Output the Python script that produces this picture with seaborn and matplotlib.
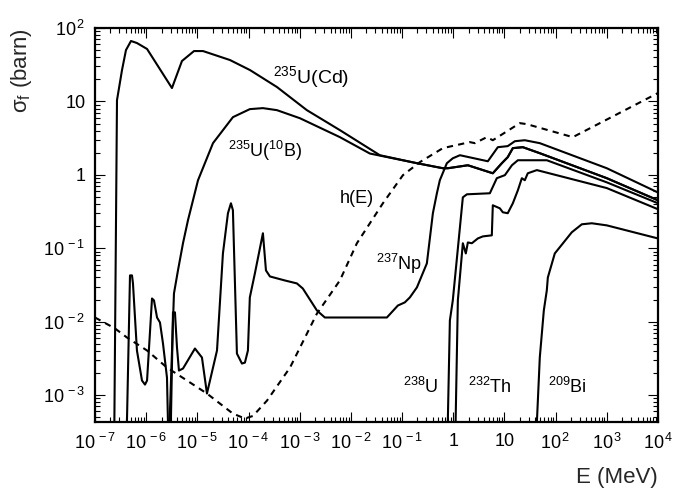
import matplotlib
matplotlib.use("Agg")
import matplotlib.pyplot as plt
import matplotlib.ticker as mticker
import pandas as pd
import seaborn as sns

# Energies in MeV, fission cross sections in barn.
# A value of 1e-4 means the curve runs out below the bottom of the frame.

# 235U behind a Cd filter (low energy part)
E_cd = [2.35e-7, 2.69e-7, 3.37e-7, 4.03e-7, 5.05e-7, 6.6e-7, 1.04e-6, 3.19e-6,
        5.0e-6, 8.6e-6, 1.29e-5, 4.34e-5, 1.07e-4, 3.59e-4, 1.38e-3, 6.1e-3,
        3.68e-2, 0.195]
sig_cd = [1e-4, 10.4, 26.7, 50, 66.5, 62.4, 51.8, 15.2,
          35.5, 48.5, 48.5, 36.6, 26.7, 15.7, 7.6, 4.06,
          1.85, 1.44]

# 235U behind a 10B filter (low energy part)
E_b = [2.67e-6, 3.49e-6, 4.18e-6, 5.24e-6, 6.55e-6, 1.03e-5, 2.02e-5, 4.95e-5,
       1.06e-4, 1.91e-4, 3.59e-4, 1.01e-3, 6.1e-3, 2.35e-2, 0.195]
sig_b = [1e-4, 2.42e-2, 4.99e-2, 0.117, 0.24, 0.844, 2.70, 6.1,
         7.85, 8.1, 7.6, 5.9, 3.26, 1.95, 1.44]

# above ~0.2 MeV both 235U curves are the same
E_u235 = [0.627, 0.785, 1.93, 5.93, 8.9, 11.6, 14.6, 22.9, 49.1, 1000, 1e4]
sig_u235 = [1.23, 1.23, 1.35, 1.05, 1.44, 1.74, 2.31, 2.38, 1.97, 0.90, 0.45]

E_np = [4.03e-7, 4.83e-7, 5.28e-7, 5.52e-7, 6.6e-7, 8.28e-7, 9.48e-7, 1.04e-6,
        1.30e-6, 1.42e-6, 1.63e-6, 1.86e-6, 2.13e-6, 2.55e-6, 2.79e-6, 2.92e-6,
        3.34e-6, 3.65e-6, 4.0e-6, 4.37e-6, 5.24e-6, 8.97e-6, 1.23e-5, 1.54e-5,
        2.42e-5, 3.16e-5, 3.96e-5, 4.53e-5, 4.95e-5, 5.93e-5, 7.43e-5, 8.5e-5,
        9.73e-5, 1.06e-4, 1.33e-4, 1.91e-4, 2.19e-4, 2.62e-4, 5.14e-4, 8.81e-4,
        1.15e-3, 2.17e-3, 3.10e-3, 5.05e-2, 8.28e-2, 0.113, 0.142, 0.195,
        0.305, 0.40, 0.479, 0.547, 0.75, 0.98, 1.35, 4.74,
        7.43, 11.6, 16.0, 25.0, 49.1, 1000, 1e4]
sig_np = [1e-4, 4.27e-2, 4.27e-2, 3.32e-2, 4.05e-3, 1.58e-3, 1.39e-3, 1.58e-3,
          2.07e-2, 1.95e-2, 1.14e-2, 9.75e-3, 5.05e-3, 1.73e-3, 1e-4, 1e-4,
          1.34e-2, 1.34e-2, 4.45e-3, 2.16e-3, 2.30e-3, 4.31e-3, 3.25e-3, 1.05e-3,
          4.05e-3, 8.5e-2, 0.30, 0.41, 0.33, 3.68e-3, 2.69e-3, 2.77e-3,
          4.05e-3, 2.14e-2, 4.54e-2, 0.16, 4.99e-2, 4.13e-2, 3.64e-2, 3.32e-2,
          2.83e-2, 1.42e-2, 1.14e-2, 1.14e-2, 1.66e-2, 1.83e-2, 2.14e-2, 2.93e-2,
          6.22e-2, 0.30, 0.561, 0.844, 1.44, 1.68, 1.85, 1.53,
          2.38, 2.46, 2.87, 2.96, 2.70, 1.23, 0.575]

E_u238 = [0.75, 0.859, 0.98, 1.54, 1.85, 5.19, 7.1, 10.2, 14.0, 18.3, 67.3, 1000, 1e4]
sig_u238 = [1e-4, 1.04e-2, 1.95e-2, 0.494, 0.543, 0.561, 0.90, 0.99, 1.35, 1.58, 1.58, 0.79, 0.41]

E_th = [1.07, 1.23, 1.54, 1.76, 1.93, 2.31, 3.02, 3.78, 5.67, 5.93, 8.13, 9.3,
        11.6, 14.6, 18.3, 21.9, 25.0, 28.6, 43.0, 1000, 1e4]
sig_th = [1e-4, 1.95e-2, 0.117, 8.5e-2, 0.120, 0.117, 0.136, 0.145, 0.150, 0.385, 0.35, 0.309,
          0.30, 0.41, 0.616, 0.90, 0.844, 1.05, 1.16, 0.66, 0.34]

E_bi = [39.2, 49.1, 58.9, 67.3, 70.5, 96.4, 207, 325, 509, 1000, 1e4]
sig_bi = [1e-4, 3.26e-3, 1.43e-2, 2.67e-2, 4.0e-2, 8.5e-2, 0.165, 0.212, 0.219, 0.205, 0.136]

# neutron flux shape h(E), dashed
E_h = [1e-7, 2.45e-7, 4.22e-7, 1.04e-6, 2.55e-6, 6.27e-6, 1.54e-5, 4.95e-5,
       8.5e-5, 1.22e-4, 2.29e-4, 6.46e-4, 2.17e-3, 6.1e-3, 1.31e-2, 4.22e-2,
       0.104, 0.223, 0.627, 2.11, 2.64, 4.53, 5.93, 20.0,
       27.4, 217, 1e4]
h_E = [1.14e-2, 8.1e-3, 6.08e-3, 4.05e-3, 2.37e-3, 1.58e-3, 1.05e-3, 5.6e-4,
       4.8e-4, 5.2e-4, 8.4e-4, 2.37e-3, 1.29e-2, 3.65e-2, 0.117, 0.41,
       0.99, 1.49, 2.31, 2.79, 2.70, 3.26, 2.96, 5.06,
       4.9, 3.26, 13.0]

sns.set_style("ticks")
plt.rcParams["font.family"] = ["Liberation Sans", "DejaVu Sans"]
plt.rcParams["mathtext.fontset"] = "custom"
plt.rcParams["mathtext.rm"] = "Liberation Sans"
plt.rcParams["mathtext.it"] = "Liberation Sans:italic"
plt.rcParams["mathtext.bf"] = "Liberation Sans:bold"
plt.rcParams["mathtext.default"] = "regular"

fig = plt.figure(figsize=(6.8, 4.91), dpi=100)
ax = fig.add_axes([0.1397, 0.1405, 0.8279, 0.8025])


def draw(E, sig, **kw):
    d = pd.DataFrame({"E": E, "sigma": sig})
    sns.lineplot(data=d, x="E", y="sigma", ax=ax, color="black", lw=1.5,
                 sort=False, estimator=None, **kw)


draw(E_cd + E_u235, sig_cd + sig_u235)
draw(E_b + E_u235, sig_b + sig_u235)
draw(E_np, sig_np)
draw(E_u238, sig_u238)
draw(E_th, sig_th)
draw(E_bi, sig_bi)
draw(E_h, h_E, linestyle=(0, (3, 2.5)))

ax.set_xscale("log")
ax.set_yscale("log")
ax.set_xlim(1e-7, 1e4)
ax.set_ylim(4.3e-4, 1e2)


def dec_label(k):
    if k == 0:
        return "1"
    if k == 1:
        return "10"
    return r"$10^{\,%d}$" % k


x_dec = list(range(-7, 5))
y_dec = list(range(-3, 3))
ax.set_xticks([10.0 ** k for k in x_dec], labels=[dec_label(k) for k in x_dec])
ax.set_yticks([10.0 ** k for k in y_dec], labels=[dec_label(k) for k in y_dec])
ax.xaxis.set_minor_locator(mticker.LogLocator(base=10, subs=range(2, 10), numticks=100))
ax.yaxis.set_minor_locator(mticker.LogLocator(base=10, subs=range(2, 10), numticks=100))
ax.xaxis.set_minor_formatter(mticker.NullFormatter())
ax.yaxis.set_minor_formatter(mticker.NullFormatter())

ax.tick_params(which="both", direction="in", top=True, right=True,
               width=0.8, colors="black", labelsize=13)
ax.tick_params(which="major", length=7.5)
ax.tick_params(which="minor", length=3.5)
ax.tick_params(axis="x", which="major", pad=8)
ax.tick_params(axis="y", which="major", pad=7)
for s in ax.spines.values():
    s.set_linewidth(1.6)
    s.set_color("black")

ax.set_xlabel("E (MeV)", fontsize=16, loc="right")
ax.xaxis.set_label_coords(1.0, -0.115)
ax.set_ylabel(r"σ$_\mathrm{f}$ (barn)", fontsize=16, loc="top")
ax.yaxis.set_label_coords(-0.108, 1.0)

# curve labels (left edge, baseline)
lab = dict(ha="left", va="baseline", color="black")
ax.text(3.0e-4, 17.8, r"$^{235}$U(Cd)", fontsize=14, **lab)
ax.text(3.96e-5, 1.74, r"$^{235}$U($^{10}$B)", fontsize=13, **lab)
ax.text(6.1e-3, 0.41, "h(E)", fontsize=13, **lab)
ax.text(3.08e-2, 4.99e-2, r"$^{237}$Np", fontsize=13, **lab)
ax.text(0.104, 1.08e-3, r"$^{238}$U", fontsize=13, **lab)
ax.text(1.93, 1.08e-3, r"$^{232}$Th", fontsize=13, **lab)
ax.text(70.5, 1.08e-3, r"$^{209}$Bi", fontsize=13, **lab)

fig.savefig("out.png", dpi=100)
